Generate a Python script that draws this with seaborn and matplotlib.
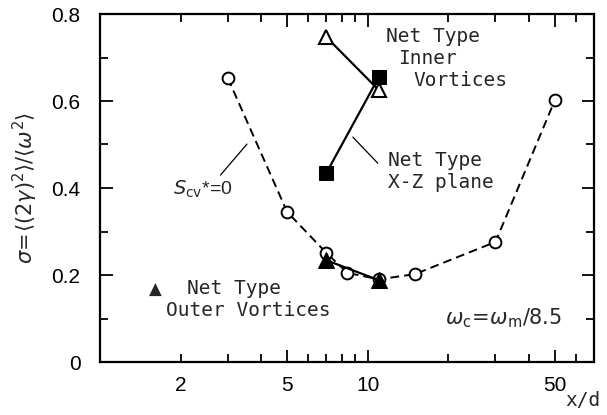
import numpy as np
import pandas as pd
import matplotlib
matplotlib.use("Agg")
import matplotlib.pyplot as plt
import matplotlib.ticker as mticker
import seaborn as sns

# ---- data ----
scv_x = [3, 5, 7, 8.4, 11, 15, 30, 50]
scv_y = [0.653, 0.345, 0.251, 0.205, 0.19, 0.202, 0.276, 0.602]

outer_x = [7, 11]
outer_y = [0.234, 0.188]

inner_x = [7, 11]
inner_y = [0.747, 0.625]

xz_x = [7, 11]
xz_y = [0.434, 0.655]

xtick_major = [5, 10, 50]
xtick_minor = [2, 3, 4, 6, 7, 8, 9, 20, 30, 40, 60, 70]
ytick_major = [0, 0.2, 0.4, 0.6, 0.8]
ytick_minor = [0.1, 0.3, 0.5, 0.7]

sns.set_style("ticks")
plt.rcParams['font.family'] = ['Liberation Sans', 'DejaVu Sans']
plt.rcParams['mathtext.fontset'] = 'dejavusans'

fig = plt.figure(figsize=(6.07, 4.15), dpi=100)
ax = fig.add_axes([100/607, 1-362/415, 494/607, 348/415])

df_scv = pd.DataFrame({"x": scv_x, "y": scv_y})
df_out = pd.DataFrame({"x": outer_x, "y": outer_y})
df_in = pd.DataFrame({"x": inner_x, "y": inner_y})
df_xz = pd.DataFrame({"x": xz_x, "y": xz_y})

sns.lineplot(data=df_scv, x="x", y="y", ax=ax, color="black", lw=1.4,
             linestyle="--", marker="o", markersize=8.5, markerfacecolor="white",
             markeredgecolor="black", markeredgewidth=1.4, zorder=2)
ax.lines[-1].set_dashes((4.5, 2.6))

sns.lineplot(data=df_out, x="x", y="y", ax=ax, color="black", lw=1.6,
             marker="^", markersize=11, markerfacecolor="black",
             markeredgecolor="black", zorder=3)
sns.lineplot(data=df_in, x="x", y="y", ax=ax, color="black", lw=1.6,
             marker="^", markersize=10.5, markerfacecolor="white",
             markeredgecolor="black", markeredgewidth=1.5, zorder=3)
sns.lineplot(data=df_xz, x="x", y="y", ax=ax, color="black", lw=1.6,
             marker="s", markersize=9.5, markerfacecolor="black",
             markeredgecolor="black", zorder=3)

ax.set_xscale("log")
ax.set_xlim(1, 70)
ax.set_ylim(0, 0.8)

ax.xaxis.set_major_locator(mticker.FixedLocator(xtick_major))
ax.xaxis.set_minor_locator(mticker.FixedLocator(xtick_minor))
ax.xaxis.set_major_formatter(mticker.FixedFormatter([str(v) for v in xtick_major]))
ax.xaxis.set_minor_formatter(mticker.FuncFormatter(lambda v, p: "2" if abs(v-2) < 1e-9 else ""))
ax.yaxis.set_major_locator(mticker.FixedLocator(ytick_major))
ax.yaxis.set_minor_locator(mticker.FixedLocator(ytick_minor))
ax.yaxis.set_major_formatter(mticker.FixedFormatter(["0", "0.2", "0.4", "0.6", "0.8"]))

ax.tick_params(which="both", direction="in", top=True, right=True, width=1.3,
               labelsize=15, colors="black")
ax.tick_params(which="major", length=9)
ax.tick_params(which="minor", length=6)
ax.tick_params(axis="x", which="both", pad=10)
ax.tick_params(axis="y", which="both", pad=14)
for s in ax.spines.values():
    s.set_linewidth(1.6)
    s.set_color("black")

ax.set_xlabel("")
ax.set_ylabel(r"$\sigma\!=\!\langle(2\gamma)^2\rangle/\langle\omega^2\rangle$", fontsize=15, labelpad=8)

mono = "DejaVu Sans Mono"
fs = 14

def axt(px, py, s, **kw):
    ax.text((px-100)/494, (362-py)/348, s, transform=ax.transAxes,
            va="center", ha="left", **kw)

axt(386, 37, "Net Type", family=mono, fontsize=fs)
axt(398, 58, "Inner", family=mono, fontsize=fs)
axt(413, 80, "Vortices", family=mono, fontsize=fs)
axt(388, 160, "Net Type", family=mono, fontsize=fs)
axt(388, 182, "X-Z plane", family=mono, fontsize=fs)
axt(187, 288, "Net Type", family=mono, fontsize=fs)
axt(166, 310, "Outer Vortices", family=mono, fontsize=fs)
axt(149, 290, "\u25b2", family="DejaVu Sans", fontsize=12)
axt(445, 318, r"$\omega_{\rm c}\!=\!\omega_{\rm m}/8.5$", fontsize=15)

# leader lines
ax.annotate(r"$S_{\rm cv}$*=0", xy=(3.54, 0.501), xytext=((173-100)/494, (362-189)/348),
            textcoords="axes fraction", va="center", ha="left", fontsize=14,
            arrowprops=dict(arrowstyle="-", color="black", lw=0.9, shrinkA=0, shrinkB=0,
                            relpos=(0.75, 1.0)))
ax.annotate("", xy=(8.8, 0.517), xytext=(10.9, 0.457),
            arrowprops=dict(arrowstyle="-", color="black", lw=0.9, shrinkA=0, shrinkB=0))

fig.text(565/607, 1-400/415, "x/d", family=mono, fontsize=fs, va="center", ha="left")

fig.savefig("out.png", dpi=100)
